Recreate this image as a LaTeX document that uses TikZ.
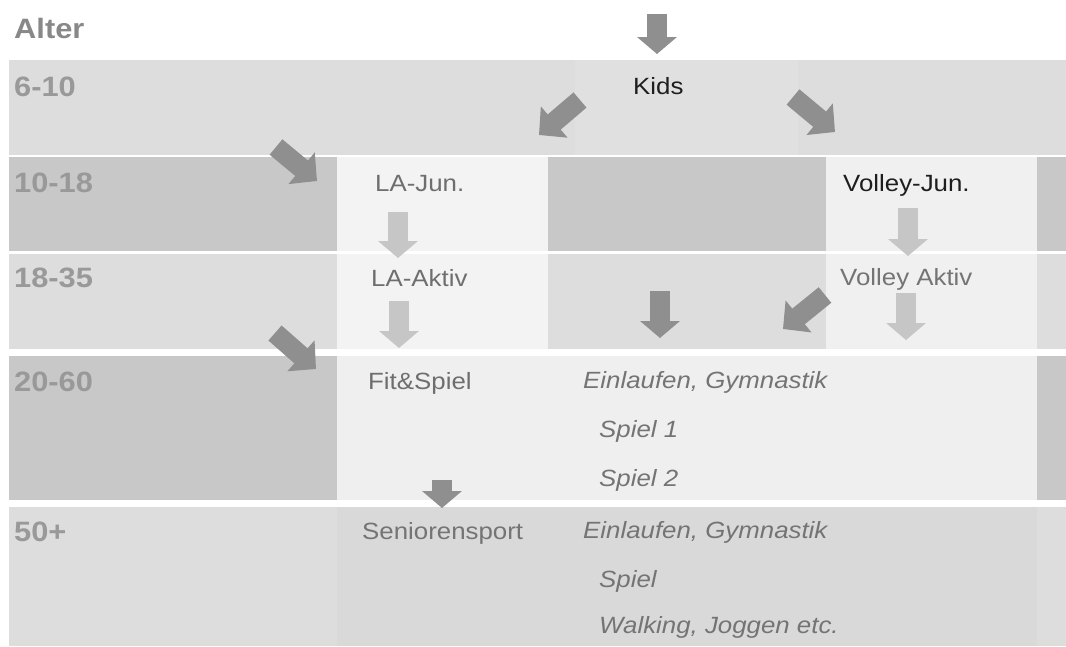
\documentclass[tikz,border=0pt]{standalone}
\usepackage{fontspec}
\setmainfont{Liberation Sans}[FakeStretch=1.1]
\usepackage{tikz}
\usetikzlibrary{arrows.meta}
\definecolor{agegray}{HTML}{999999}
\definecolor{headgray}{HTML}{888888}
\definecolor{cdark}{HTML}{C8C8C8}
\definecolor{cmid}{HTML}{DDDDDD}
\definecolor{ckids}{HTML}{E0E0E0}
\definecolor{clight}{HTML}{F3F3F3}
\definecolor{cvolley}{HTML}{F0F0F0}
\definecolor{cfit}{HTML}{EFEFEF}
\definecolor{csen}{HTML}{D9D9D9}
\definecolor{txtgray}{HTML}{6E6E6E}
\definecolor{txtsoft}{HTML}{747474}
\definecolor{txtdark}{HTML}{1E1E1E}
\definecolor{arrdark}{HTML}{8F8F8F}
\definecolor{arrlight}{HTML}{C6C6C6}
\tikzstyle{agelbl}=[anchor=base west,inner sep=0,text=agegray,font=\fontsize{28}{32}\selectfont\bfseries]
\tikzstyle{grplbl}=[anchor=base west,inner sep=0,text=txtgray,font=\fontsize{23.5}{28}\selectfont]
\tikzstyle{itemlbl}=[grplbl,text=txtsoft,font=\fontsize{23.5}{28}\selectfont\itshape]
\tikzstyle{bigarrow}=[line width=20pt,draw=arrdark,-{Triangle[length=17pt,width=39pt]}]
\tikzstyle{slantarrow}=[line width=20pt,draw=arrdark,-{Triangle[length=20pt,width=40pt]}]
\tikzstyle{palearrow}=[bigarrow,draw=arrlight]
\begin{document}
\begin{tikzpicture}[x=1pt,y=-1pt]
            \fill[white] (0,0) rectangle (1066,646);
            \useasboundingbox (0,0) rectangle (1066,646);
            % rows
            \fill[cmid] (9,60) rectangle (1066,155);
            \fill[ckids] (575,60) rectangle (798,155);
            \fill[cdark] (9,157) rectangle (337,251);
            \fill[clight] (337,157) rectangle (548,251);
            \fill[cdark] (548,157) rectangle (826,251);
            \fill[cvolley] (826,157) rectangle (1037,251);
            \fill[cdark] (1037,157) rectangle (1066,251);
            \fill[cmid] (9,254) rectangle (337,349);
            \fill[clight] (337,254) rectangle (548,349);
            \fill[cmid] (548,254) rectangle (826,349);
            \fill[cvolley] (826,254) rectangle (1037,349);
            \fill[cmid] (1037,254) rectangle (1066,349);
            \fill[cdark] (9,356) rectangle (337,500);
            \fill[cfit] (337,356) rectangle (1037,500);
            \fill[cdark] (1037,356) rectangle (1066,500);
            \fill[cmid] (9,507) rectangle (337,646);
            \fill[csen] (337,507) rectangle (1037,646);
            \fill[cmid] (1037,507) rectangle (1066,646);
            % ages
            \node[agelbl,text=headgray] (alter) at (14,38) {Alter};
            \node[agelbl] (a1) at (14,96) {6-10};
            \node[agelbl] (a2) at (14,192) {10-18};
            \node[agelbl] (a3) at (14,287) {18-35};
            \node[agelbl] (a4) at (14,391) {20-60};
            \node[agelbl] (a5) at (14,541) {50+};
            % groups
            \node[grplbl,text=txtdark] (kids) at (633,94) {Kids};
            \node[grplbl] (lajun) at (375,191) {LA-Jun.};
            \node[grplbl,text=txtdark] (vojun) at (843,191) {Volley-Jun.};
            \node[grplbl] (laakt) at (371,286) {LA-Aktiv};
            \node[grplbl,text=txtsoft] (voakt) at (840,285) {Volley Aktiv};
            \node[grplbl] (fit) at (368,389) {Fit\&Spiel};
            \node[grplbl,text=txtsoft] (sen) at (362,539) {Seniorensport};
            \node[itemlbl] (fit1) at (583,388) {Einlaufen, Gymnastik};
            \node[itemlbl] (fit2) at (599,437) {Spiel 1};
            \node[itemlbl] (fit3) at (599,486) {Spiel 2};
            \node[itemlbl] (sen1) at (583,538) {Einlaufen, Gymnastik};
            \node[itemlbl] (sen2) at (599,587) {Spiel};
            \node[itemlbl] (sen3) at (599,633) {Walking, Joggen etc.};
            % arrows
            \coordinate (kin) at (657,14);
            \coordinate (kout) at (657,54);
            \coordinate (kl) at (580,100);
            \coordinate (klt) at (539,135);
            \coordinate (kr) at (793,97);
            \coordinate (krt) at (835,132);
            \coordinate (jl) at (276,147);
            \coordinate (jlt) at (317,181);
            \coordinate (fl) at (275,333);
            \coordinate (flt) at (316,369);
            \coordinate (md) at (660,291);
            \coordinate (mdt) at (660,338);
            \coordinate (vl) at (825,295);
            \coordinate (vlt) at (783,329);
            \coordinate (sd) at (442,480);
            \coordinate (sdt) at (442,508);
            \coordinate (la1) at (398,212);
            \coordinate (la1t) at (398,258);
            \coordinate (la2) at (399,301);
            \coordinate (la2t) at (399,348);
            \coordinate (vo1) at (908,208);
            \coordinate (vo1t) at (908,256);
            \coordinate (vo2) at (906,293);
            \coordinate (vo2t) at (906,340);
            \draw[bigarrow] (kin) -- (kout);
            \draw[slantarrow] (kl) -- (klt);
            \draw[slantarrow] (kr) -- (krt);
            \draw[slantarrow] (jl) -- (jlt);
            \draw[slantarrow] (fl) -- (flt);
            \draw[bigarrow] (md) -- (mdt);
            \draw[slantarrow] (vl) -- (vlt);
            \draw[bigarrow] (sd) -- (sdt);
            \draw[palearrow] (la1) -- (la1t);
            \draw[palearrow] (la2) -- (la2t);
            \draw[palearrow] (vo1) -- (vo1t);
            \draw[palearrow] (vo2) -- (vo2t);
          \end{tikzpicture}
\end{document}
